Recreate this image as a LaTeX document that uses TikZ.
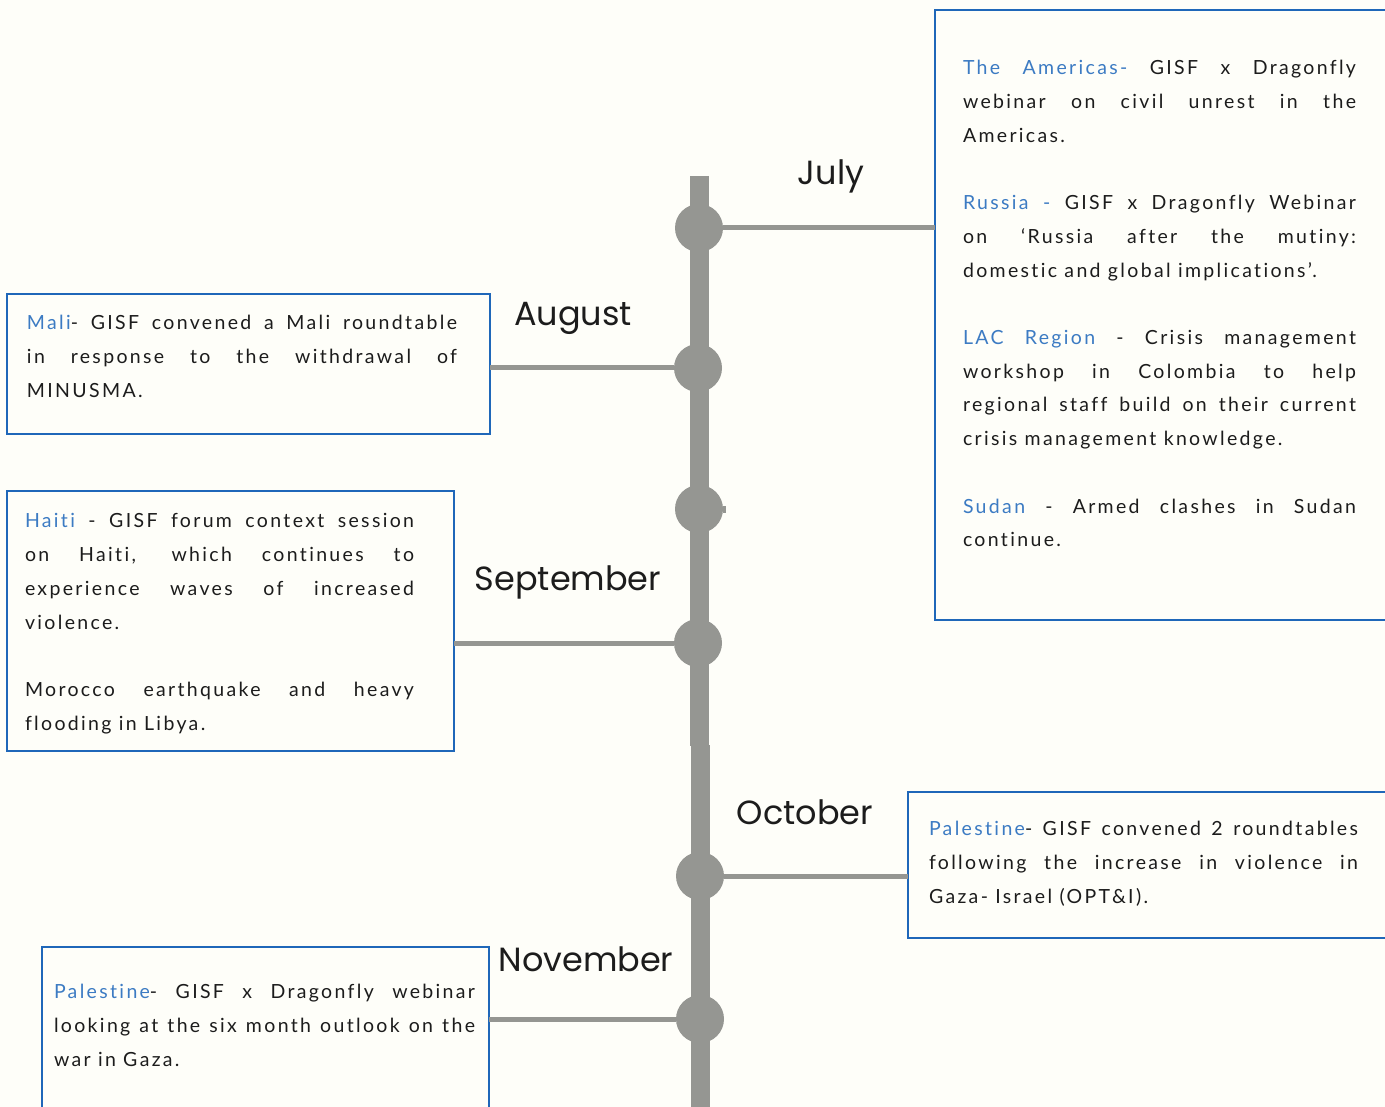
\documentclass[tikz,border=0pt]{standalone}
\usepackage{fontspec}
\setmainfont{Lato}
\newfontfamily\bodyfont{Lato}[LetterSpace=12,Ligatures=NoCommon]
\newfontfamily\monthfont{Poppins}
\definecolor{bg}{HTML}{FEFEF9}
\definecolor{spinegray}{HTML}{959692}
\definecolor{boxblue}{HTML}{1F67B9}
\definecolor{hlblue}{HTML}{3C7BC3}
\definecolor{ink}{HTML}{1C1C1C}
\newcommand{\hl}[1]{\textcolor{hlblue}{#1}}
\newcommand{\bodysetup}{\bodyfont\fontsize{19.5}{33.7}\selectfont\tolerance=10000\relax\hyphenpenalty=10000\relax\exhyphenpenalty=10000\relax}
\begin{document}
\begin{tikzpicture}[x=1pt,y=-1pt,
  evbox/.style={draw=boxblue, line width=2.5pt, rectangle, inner sep=0pt, outer sep=0pt, anchor=north west},
  txt/.style={inner sep=0pt, outer sep=0pt, anchor=north west, align=justify, text=ink, font=\bodysetup},
  month/.style={inner sep=0pt, anchor=base, text=ink, font=\monthfont\fontsize{33.5}{40}\selectfont},
  dot/.style={circle, fill=spinegray, minimum size=48pt, inner sep=0pt, outer sep=0pt},
  conn/.style={draw=spinegray, line width=5pt},
  spine/.style={draw=spinegray, line width=19pt}]
\fill[bg] (0,0) rectangle (1385,1107);
\useasboundingbox (0,0) rectangle (1385,1107);

% spine
\coordinate (s1) at (699,176);
\coordinate (s2) at (699,746);
\coordinate (s3) at (700.5,745);
\coordinate (s4) at (700.5,1112);
\draw[spine] (s1) -- (s2);
\draw[spine] (s3) -- (s4);

% boxes
\node[evbox, minimum width=457pt, minimum height=610pt] (jul) at (935,10) {};
\node[evbox, minimum width=483pt, minimum height=140pt] (mali) at (7,294) {};
\node[evbox, minimum width=447pt, minimum height=260pt] (haiti) at (7,491) {};
\node[evbox, minimum width=484pt, minimum height=146pt] (oct) at (908,792) {};
\node[evbox, minimum width=447pt, minimum height=168pt] (nov) at (42,947) {};

% dots
\node[dot] (c1) at (699,228) {};
\node[dot] (c2) at (698,368) {};
\node[dot] (c3) at (699,509) {};
\node[dot] (c4) at (698,643) {};
\node[dot] (c5) at (700,876) {};
\node[dot] (c6) at (700,1019) {};

% connectors
\draw[conn] (c1.east) -- (c1 -| jul.west);
\draw[conn] (c2 -| mali.east) -- (c2.west);
\draw[conn] (c4 -| haiti.east) -- (c4.west);
\draw[conn] (c5.east) -- (c5 -| oct.west);
\draw[conn] (c6 -| nov.east) -- (c6.west);
\draw[spinegray, line width=7pt] (c3.east) -- ++(3,0);

% months
\node[month] (mjul) at (831,185) {July};
\node[month] (maug) at (573,326) {August};
\node[month] (msep) at (568,590) {September};
\node[month] (moct) at (805,824) {October};
\node[month] (mnov) at (586,971) {November};

% texts
\node[txt, text width=393pt] (tjul) at (963,51.4) {\strut\hl{The Americas-} GISF x Dragonfly\linebreak webinar on civil unrest in the\linebreak Americas.\par\strut\par
\hl{Russia -} GISF x Dragonfly Webinar\linebreak on ‘Russia after the mutiny:\linebreak domestic and global implications’.\par\strut\par
\hl{LAC Region} - Crisis management\linebreak workshop in Colombia to help\linebreak regional staff build on their current\linebreak crisis management knowledge.\par\strut\par
\hl{Sudan} - Armed clashes in Sudan\linebreak continue.};

\node[txt, text width=430pt] (tmali) at (27,306.4) {\strut\hl{Mali}- GISF convened a Mali roundtable\linebreak in response to the withdrawal of\linebreak MINUSMA.};

\node[txt, text width=389pt] (thaiti) at (25,504.4) {\strut\hl{Haiti} - GISF forum context session\linebreak on Haiti, which continues to\linebreak experience waves of increased\linebreak violence.\par\strut\par
Morocco earthquake and heavy\linebreak flooding in Libya.};

\node[txt, text width=429pt] (toct) at (929,812.4) {\strut\hl{Palestine}- GISF convened 2 roundtables\linebreak following the increase in violence in\linebreak Gaza- Israel (OPT\&I).};

\node[txt, text width=421pt] (tnov) at (54,975.4) {\strut\hl{Palestine}- GISF x Dragonfly webinar\linebreak looking at the six month outlook on the\linebreak war in Gaza.};
\end{tikzpicture}
\end{document}
